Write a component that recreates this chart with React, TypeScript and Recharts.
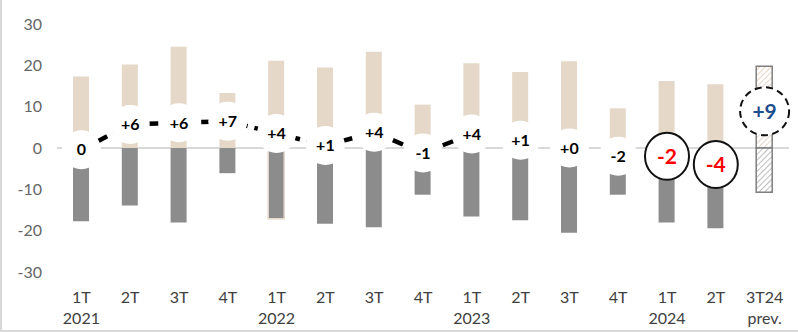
import React from 'react';
import { ComposedChart, Bar, Line, XAxis, YAxis, CartesianGrid, Cell } from 'recharts';

const quarters = ['1T', '2T', '3T', '4T', '1T', '2T', '3T', '4T', '1T', '2T', '3T', '4T', '1T', '2T', '3T24'];
const years = ['2021', '', '', '', '2022', '', '', '', '2023', '', '', '', '2024', '', 'prev.'];
const upSide = [17.3, 20.2, 24.5, 13.3, 21.1, 19.5, 23.3, 10.5, 20.5, 18.4, 21.0, 9.6, 16.2, 15.4, null];
const downSide = [-17.7, -13.9, -18.0, -6.1, -17.1, -18.3, -19.2, -11.3, -16.6, -17.5, -20.5, -11.3, -18.0, -19.4, null];
const upForecast = [null, null, null, null, null, null, null, null, null, null, null, null, null, null, 19.8];
const downForecast = [null, null, null, null, null, null, null, null, null, null, null, null, null, null, -10.7];
const balance = [-0.4, 5.7, 6.1, 6.5, 3.5, 0.6, 3.8, -1.2, 3.4, 1.9, 0.0, -2.0, -2.0, -4.0, 8.9];
const balanceLabels = ['0', '+6', '+6', '+7', '+4', '+1', '+4', '-1', '+4', '+1', '+0', '-2', '-2', '-4', '+9'];
const yTicks = [-30, -20, -10, 0, 10, 20, 30];

// dashed connector only shows on the first quarters
const lastDashed = 8;
const circled = [12, 13];
const forecastIdx = 14;

const BEIGE = '#E5D8C9';
const GREY = '#8C8C8C';
const FONT = 'Lato, "Noto Sans", sans-serif';

const data = quarters.map((q, i) => ({
    key: `p${i}`,
    up: upSide[i],
    down: downSide[i],
    upF: upForecast[i],
    downF: downForecast[i],
    bal: balance[i],
    balLine: i <= lastDashed ? balance[i] : null,
}));

function QuarterTick(props: any) {
    const { x, y, payload } = props;
    const i = payload.index;
    return (
        <g>
            <text x={x} y={y + 23} textAnchor="middle" fill="#404040" fontSize={16} fontFamily={FONT}>
                {quarters[i]}
            </text>
            {years[i] && (
                <text x={x} y={y + 44} textAnchor="middle" fill="#404040" fontSize={16} fontFamily={FONT}>
                    {years[i]}
                </text>
            )}
        </g>
    );
}

function BalanceDot(props: any) {
    const { cx, cy, index } = props;
    if (cx == null || cy == null) return <g key={`d${index}`} />;
    const txt = balanceLabels[index];
    if (index === forecastIdx) {
        return (
            <g key={`d${index}`}>
                <ellipse cx={cx} cy={cy} rx={24.5} ry={24} fill="#fff" stroke="#111" strokeWidth={2} strokeDasharray="7 4.5" />
                <text x={cx} y={cy} dy="0.36em" textAnchor="middle" fill="#1F4E8C" fontSize={21} fontWeight={700} fontFamily={FONT}>
                    {txt}
                </text>
            </g>
        );
    }
    if (circled.includes(index)) {
        return (
            <g key={`d${index}`}>
                <ellipse cx={cx} cy={cy} rx={22} ry={23.5} fill="#fff" stroke="#111" strokeWidth={2} />
                <text x={cx} y={cy} dy="0.36em" textAnchor="middle" fill="#FF0000" fontSize={21} fontWeight={700} fontFamily={FONT}>
                    {txt}
                </text>
            </g>
        );
    }
    return (
        <g key={`d${index}`}>
            <circle cx={cx} cy={cy} r={19.5} fill="#fff" />
            <text x={cx} y={cy} dy="0.36em" textAnchor="middle" fill="#000" fontSize={16} fontWeight={700} fontFamily={FONT}>
                {txt}
            </text>
        </g>
    );
}

export default function App() {
    return (
        <div style={{ position: 'absolute', left: 0, top: 0, width: 798, height: 332, background: '#fff' }}>
            <ComposedChart
                width={798}
                height={332}
                data={data}
                stackOffset="sign"
                margin={{ top: 24, right: 9, left: 0, bottom: 0 }}
            >
                <defs>
                    <pattern id="hatchUp" width="4" height="4" patternUnits="userSpaceOnUse" patternTransform="rotate(45)">
                        <rect width="4" height="4" fill="#fff" />
                        <line x1="0" y1="0" x2="0" y2="4" stroke="#D9BFA8" strokeWidth="1.3" />
                    </pattern>
                    <pattern id="hatchDown" width="4" height="4" patternUnits="userSpaceOnUse" patternTransform="rotate(45)">
                        <rect width="4" height="4" fill="#fff" />
                        <line x1="0" y1="0" x2="0" y2="4" stroke="#9A9A9A" strokeWidth="1.3" />
                    </pattern>
                </defs>
                <CartesianGrid vertical={false} horizontalValues={[0]} stroke="#D9D9D9" strokeWidth={2} />
                <XAxis
                    dataKey="key"
                    axisLine={false}
                    tickLine={false}
                    height={60}
                    interval={0}
                    tick={<QuarterTick />}
                />
                <YAxis
                    domain={[-30, 30]}
                    ticks={yTicks}
                    width={57}
                    axisLine={false}
                    tickLine={false}
                    tickMargin={9}
                    tick={{ fill: '#666666', fontSize: 16, fontFamily: FONT }}
                />
                <Bar dataKey="up" stackId="a" fill={BEIGE} barSize={16} isAnimationActive={false} />
                <Bar dataKey="down" stackId="a" fill={GREY} barSize={16} isAnimationActive={false}>
                    {data.map((d, i) => (
                        <Cell key={`c${i}`} stroke={i === 4 ? BEIGE : 'none'} strokeWidth={i === 4 ? 1.5 : 0} />
                    ))}
                </Bar>
                <Bar dataKey="upF" stackId="a" fill="url(#hatchUp)" stroke="#7F7F7F" strokeWidth={1.5} barSize={16} isAnimationActive={false} />
                <Bar dataKey="downF" stackId="a" fill="url(#hatchDown)" stroke="#7F7F7F" strokeWidth={1.5} barSize={16} isAnimationActive={false} />
                <Line
                    dataKey="balLine"
                    stroke="#000"
                    strokeWidth={4.5}
                    strokeDasharray="11 7"
                    dot={false}
                    activeDot={false}
                    connectNulls={false}
                    isAnimationActive={false}
                />
                <Line
                    dataKey="bal"
                    stroke="none"
                    dot={(p: any) => <BalanceDot {...p} key={`bd${p.index}`} />}
                    activeDot={false}
                    isAnimationActive={false}
                />
            </ComposedChart>
            <div style={{ position: 'absolute', left: 0, top: 0, width: 2, height: 332, background: '#D9D9D9' }} />
            <div style={{ position: 'absolute', left: 0, top: 330, width: 798, height: 2, background: '#D9D9D9' }} />
        </div>
    );
}
